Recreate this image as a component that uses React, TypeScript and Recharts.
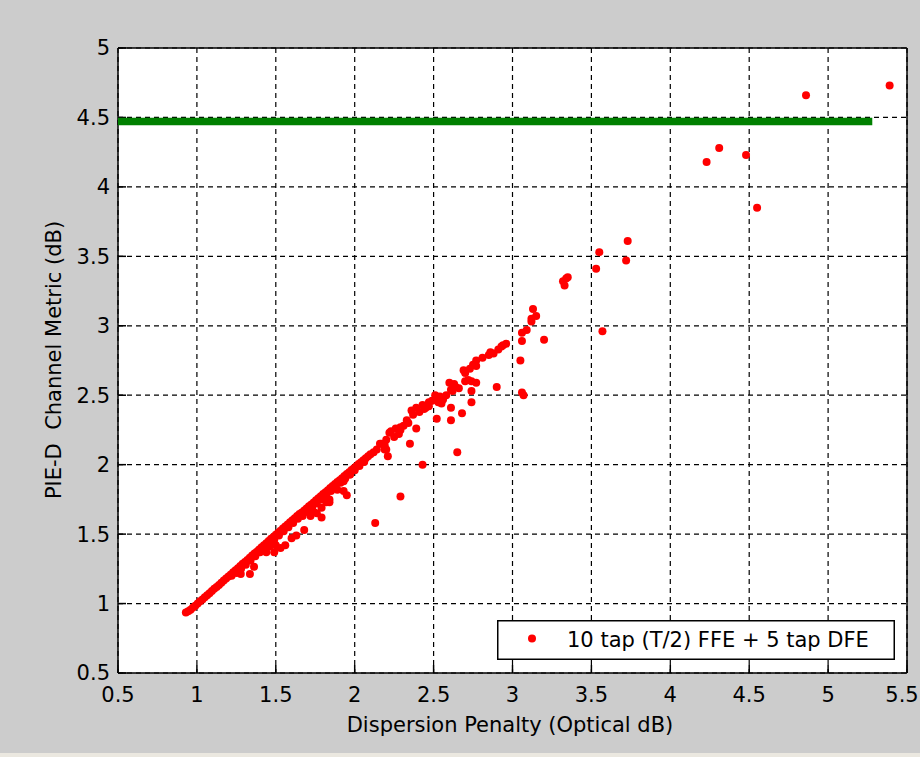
import React from 'react';
import { ScatterChart, Scatter, XAxis, YAxis, CartesianGrid, Legend, Label } from 'recharts';

// ---- tick labels ----
const xTicks = [0.5, 1, 1.5, 2, 2.5, 3, 3.5, 4, 4.5, 5, 5.5];
const yTicks = [0.5, 1, 1.5, 2, 2.5, 3, 3.5, 4, 4.5, 5];

// ---- dense trend band (Dispersion Penalty, PIE-D) ----
const bandX = [
  0.93, 0.945, 0.96, 0.975, 0.99, 1.005, 1.02, 1.035, 1.05, 1.065, 1.08, 1.095, 1.11, 1.125, 1.14, 1.155,
  1.17, 1.185, 1.2, 1.215, 1.23, 1.245, 1.26, 1.275, 1.29, 1.305, 1.32, 1.335, 1.35, 1.365, 1.38, 1.395,
  1.41, 1.425, 1.44, 1.455, 1.47, 1.485, 1.5, 1.515, 1.53, 1.545, 1.56, 1.575, 1.59, 1.605, 1.62, 1.635,
  1.65, 1.665, 1.68, 1.695, 1.71, 1.725, 1.74, 1.755, 1.77, 1.785, 1.8, 1.815, 1.83, 1.845, 1.86, 1.875,
  1.89, 1.905, 1.92, 1.935, 1.95, 1.965, 1.98, 1.995, 2.01, 2.025, 2.04, 2.055, 2.07, 2.085, 2.1, 2.12,
  1.22, 1.25, 1.28, 1.31, 1.34, 1.37, 1.4, 1.43, 1.46, 1.49, 1.52, 1.55, 1.58, 1.61, 1.64, 1.67,
  1.7, 1.73, 1.76, 1.79, 1.82, 1.85, 1.88, 1.91, 1.94, 1.97, 2.0, 2.03, 2.06,
];
const bandY = [
  0.935, 0.945, 0.955, 0.972, 0.985, 1.0, 1.016, 1.03, 1.046, 1.06, 1.074, 1.09, 1.106, 1.12, 1.134, 1.15,
  1.166, 1.18, 1.194, 1.21, 1.226, 1.24, 1.254, 1.27, 1.286, 1.3, 1.314, 1.33, 1.346, 1.36, 1.374, 1.39,
  1.406, 1.42, 1.434, 1.45, 1.466, 1.48, 1.495, 1.51, 1.525, 1.54, 1.555, 1.57, 1.585, 1.6, 1.614, 1.63,
  1.644, 1.656, 1.67, 1.685, 1.7, 1.714, 1.728, 1.744, 1.758, 1.772, 1.788, 1.802, 1.816, 1.832, 1.846, 1.86,
  1.876, 1.888, 1.902, 1.918, 1.932, 1.946, 1.962, 1.974, 1.988, 2.004, 2.018, 2.032, 2.046, 2.06, 2.075, 2.09,
  1.2, 1.22, 1.25, 1.28, 1.31, 1.34, 1.37, 1.4, 1.43, 1.46, 1.49, 1.52, 1.55, 1.58, 1.61, 1.63,
  1.66, 1.69, 1.72, 1.75, 1.78, 1.81, 1.84, 1.87, 1.9, 1.93, 1.96, 1.99, 2.02,
];

// ---- scattered points ----
const spreadX = [
  1.278, 1.336, 1.362, 1.44, 1.46, 1.49, 1.5, 1.53, 1.56, 1.6, 1.63, 1.68, 1.72, 1.74, 1.76, 1.79,
  1.79, 1.82, 1.84, 1.84, 1.89, 1.93, 1.93, 1.95, 1.97,
  2.13, 2.16, 2.17, 2.19, 2.2, 2.19, 2.21, 2.2, 2.22, 2.23, 2.26, 2.29, 2.29, 2.35, 2.33, 2.37, 2.36, 2.39,
  2.39, 2.43, 2.45, 2.47, 2.49, 2.43, 2.51, 2.52, 2.54, 2.53, 2.55, 2.52, 2.6, 2.61, 2.62, 2.64, 2.61,
  2.61, 2.68, 2.65, 2.7, 2.72, 2.74, 2.77, 2.74, 2.74, 2.69, 2.73, 2.77, 2.77, 2.81, 2.85, 2.86, 2.88,
  2.91, 2.93, 2.94, 2.96, 2.9, 2.29,
  2.14, 2.25, 2.28, 2.31, 2.34, 2.41, 2.44, 2.47, 2.56, 2.58, 2.63, 2.66, 2.7, 2.75,
  3.05, 3.06, 3.06, 3.09, 3.06, 3.07, 3.12, 3.12, 3.15, 3.13, 3.2, 3.32, 3.33, 3.34, 3.35, 3.53,
  3.55, 3.57, 3.72, 3.73, 4.23, 4.31, 4.48, 4.55, 4.86, 5.39,
];
const spreadY = [
  1.213, 1.213, 1.265, 1.37, 1.41, 1.37, 1.42, 1.4, 1.42, 1.47, 1.49, 1.53, 1.63, 1.66, 1.65, 1.62,
  1.69, 1.73, 1.75, 1.73, 1.82, 1.81, 1.88, 1.78, 1.93,
  1.58, 2.15, 2.15, 2.14, 2.18, 2.11, 2.06, 2.11, 2.23, 2.24, 2.26, 2.27, 2.25, 2.15, 2.32, 2.36, 2.39, 2.41,
  2.26, 2.43, 2.41, 2.45, 2.46, 2.0, 2.5, 2.48, 2.49, 2.45, 2.44, 2.33, 2.59, 2.54, 2.53, 2.56, 2.41,
  2.32, 2.37, 2.09, 2.6, 2.61, 2.6, 2.59, 2.53, 2.45, 2.68, 2.69, 2.71, 2.75, 2.77, 2.79, 2.81, 2.8,
  2.83, 2.85, 2.86, 2.87, 2.56, 1.77,
  2.11, 2.2, 2.22, 2.28, 2.3, 2.38, 2.4, 2.42, 2.47, 2.5, 2.58, 2.55, 2.66, 2.72,
  2.75, 2.89, 2.95, 2.97, 2.52, 2.5, 3.03, 3.05, 3.07, 3.12, 2.9, 3.32, 3.29, 3.34, 3.35, 3.41,
  3.53, 2.96, 3.47, 3.61, 4.18, 4.28, 4.23, 3.85, 4.66, 4.73,
];

// ---- threshold line ----
const thresholdX = [0.5, 5.28];
const thresholdY = [4.47, 4.47];

const seriesName = '10 tap (T/2) FFE + 5 tap DFE';
const xTitle = 'Dispersion Penalty (Optical dB)';
const yTitle = 'PIE-D  Channel Metric (dB)';

const pieData = [...bandX.map((x, i) => ({ x, y: bandY[i] })), ...spreadX.map((x, i) => ({ x, y: spreadY[i] }))];
const thresholdData = thresholdX.map((x, i) => ({ x, y: thresholdY[i] }));

const FONT = "'DejaVu Sans', Arial, sans-serif";
const tickStyle = { fill: '#000', fontSize: 21, fontFamily: FONT };
const lineStyle = { stroke: '#000', strokeWidth: 1.5 };

const RedDot = (p: any) => <circle cx={p.cx} cy={p.cy} r={4} fill="#ff0000" />;
const NoShape = () => <g />;

const XTick = (p: any) => {
  const v = p.payload?.value;
  const shift = v === 5.5 ? -5 : 0;
  return (
    <text x={p.x + shift} y={p.y} dy="0.71em" textAnchor="middle" fontSize={21} fontFamily={FONT} fill="#000">
      {String(v)}
    </text>
  );
};

const LegendBox = (props: any) => {
  const payload = (props.payload || []).filter((e: any) => e.type !== 'none' && e.value === seriesName);
  const items = payload.length ? payload : [{ value: seriesName }];
  return (
    <svg width={398} height={40} style={{ display: 'block' }}>
      <rect x={0.75} y={0.75} width={396.5} height={38.5} fill="#fff" stroke="#000" strokeWidth={1.5} />
      {items.slice(0, 1).map((it: any, i: number) => (
        <g key={i}>
          <circle cx={35} cy={18.5} r={4} fill="#ff0000" />
          <text x={70} y={27} fontSize={21} fontFamily={FONT} fill="#000">{it.value}</text>
        </g>
      ))}
    </svg>
  );
};

const XTitle = () => (
  <text x={510} y={732} textAnchor="middle" fontSize={21} fontFamily={FONT} fill="#000">{xTitle}</text>
);
const YTitle = () => (
  <text x={61} y={360} transform="rotate(-90, 61, 360)" textAnchor="middle" fontSize={21} fontFamily={FONT} fill="#000" style={{ whiteSpace: 'pre' }}>{yTitle}</text>
);

export default function App() {
  return (
    <div style={{ position: 'absolute', left: 0, top: 0, width: 920, height: 757, background: '#cccccc', fontFamily: FONT }}>
      <ScatterChart width={920} height={757} margin={{ top: 47, right: 12, bottom: 44, left: 58 }}>
        <CartesianGrid stroke="#000" strokeDasharray="5 4" strokeWidth={1.2} fill="#ffffff" />
        <XAxis
          xAxisId={0}
          type="number"
          dataKey="x"
          domain={[0.5, 5.5]}
          ticks={xTicks}
          allowDataOverflow
          height={40}
          tickSize={-8}
          tickMargin={22}
          tick={XTick}
          axisLine={lineStyle}
          tickLine={lineStyle}
        >
          <Label content={XTitle} />
        </XAxis>
        <XAxis
          xAxisId="top"
          orientation="top"
          type="number"
          domain={[0.5, 5.5]}
          ticks={xTicks}
          allowDataOverflow
          height={1}
          tickSize={-8}
          tick={false}
          axisLine={lineStyle}
          tickLine={lineStyle}
        />
        <YAxis
          yAxisId={0}
          type="number"
          dataKey="y"
          domain={[0.5, 5]}
          ticks={yTicks}
          allowDataOverflow
          width={60}
          tickSize={-8}
          tickMargin={16}
          tick={tickStyle}
          axisLine={lineStyle}
          tickLine={lineStyle}
        >
          <Label content={YTitle} />
        </YAxis>
        <YAxis
          yAxisId="right"
          orientation="right"
          type="number"
          domain={[0.5, 5]}
          ticks={yTicks}
          allowDataOverflow
          width={1}
          tickSize={-8}
          tick={false}
          axisLine={lineStyle}
          tickLine={lineStyle}
        />
        <Legend
          content={LegendBox}
          layout="horizontal"
          verticalAlign="middle"
          align="center"
          width={398}
          height={40}
          wrapperStyle={{ left: 497, top: 620, width: 398, height: 40 }}
        />
        <Scatter
          name={seriesName}
          data={pieData}
          fill="#ff0000"
          shape={RedDot}
          isAnimationActive={false}
        />
        <Scatter
          name="threshold"
          data={thresholdData}
          line={{ stroke: '#008000', strokeWidth: 7.5 }}
          shape={NoShape}
          legendType="none"
          isAnimationActive={false}
        />
      </ScatterChart>
      <div style={{ position: 'absolute', left: 0, bottom: 0, width: 920, height: 4, background: '#ebe8e0' }} />
    </div>
  );
}
